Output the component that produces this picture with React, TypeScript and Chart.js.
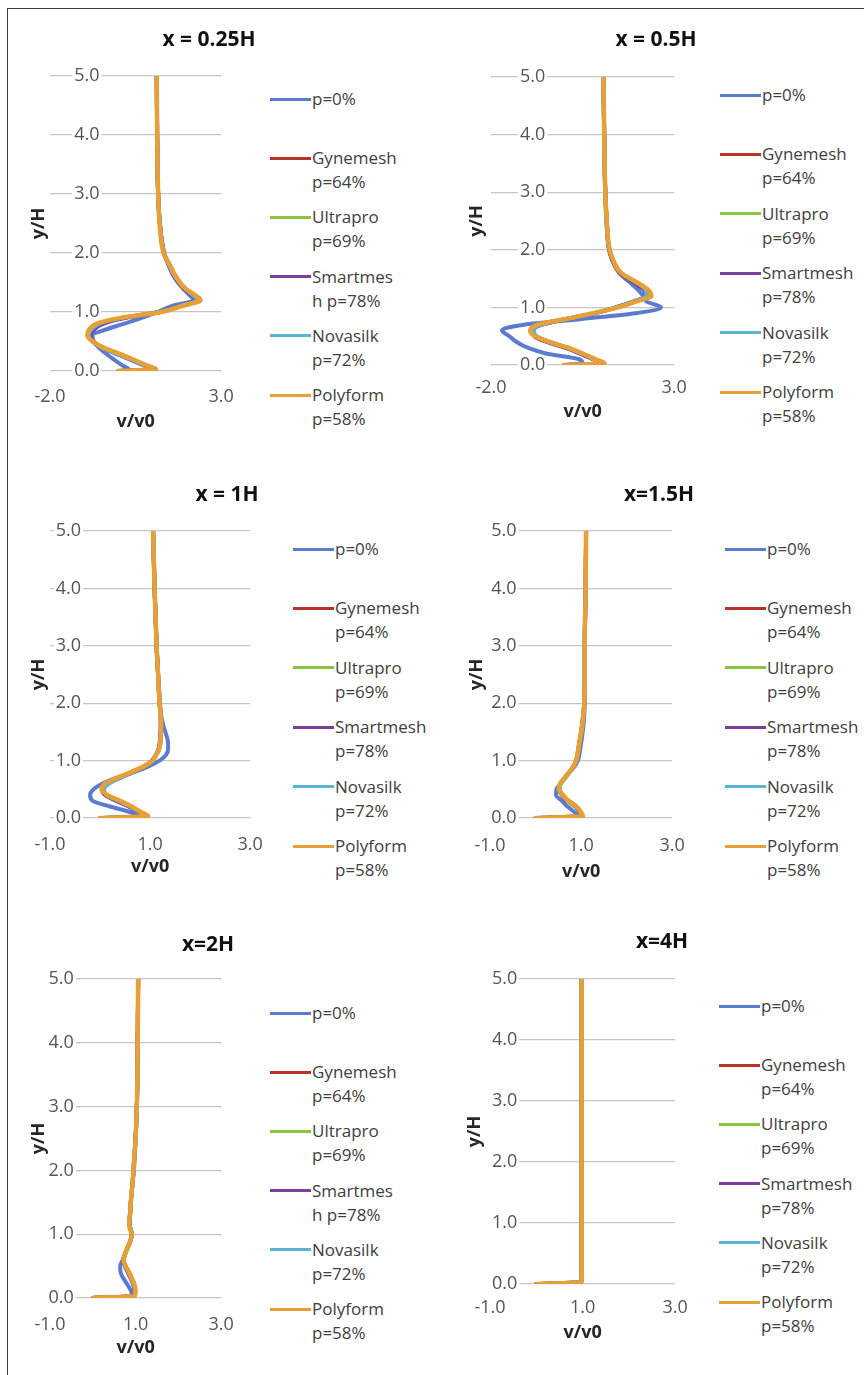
import React, { useEffect, useRef } from "react";
import { Chart, registerables } from "chart.js";

Chart.register(...registerables);

const FONT = "'Open Sans', 'DejaVu Sans', sans-serif";
Chart.defaults.font.family = FONT;

// ---------- data ----------
const Y_LEVELS = [0, 0.03, 0.1, 0.2, 0.3, 0.4, 0.5, 0.6, 0.7, 0.8, 0.9, 1.0, 1.1, 1.2, 1.3, 1.4, 1.6, 1.8, 2.0, 2.5, 3.0, 4.0, 5.0];

const SERIES_NAMES = ["p=0%", "Gynemesh p=64%", "Ultrapro p=69%", "Smartmesh p=78%", "Novasilk p=72%", "Polyform p=58%"];
const SERIES_COLORS = ["#5B7BD0", "#B8312A", "#8CC43F", "#7A3E9E", "#5AB4D6", "#E8A036"];

const LEGEND_NARROW = [["p=0%"], ["Gynemesh", "p=64%"], ["Ultrapro", "p=69%"], ["Smartmes", "h p=78%"], ["Novasilk", "p=72%"], ["Polyform", "p=58%"]];
const LEGEND_WIDE = [["p=0%"], ["Gynemesh", "p=64%"], ["Ultrapro", "p=69%"], ["Smartmesh", "p=78%"], ["Novasilk", "p=72%"], ["Polyform", "p=58%"]];

// x = 0.25H
const A_P0 = [0, 0.30, 0.10, -0.15, -0.38, -0.58, -0.72, -0.76, -0.38, 0.15, 0.68, 1.15, 1.55, 2.20, 2.05, 1.88, 1.62, 1.46, 1.34, 1.21, 1.16, 1.13, 1.12];
const A_GYN = [0, 1.06, 0.76, 0.36, -0.05, -0.48, -0.74, -0.86, -0.80, -0.55, 0.12, 1.22, 1.80, 2.30, 2.14, 1.94, 1.64, 1.47, 1.33, 1.21, 1.16, 1.13, 1.12];
const A_ULT = [0, 1.07, 0.77, 0.37, -0.04, -0.47, -0.73, -0.85, -0.79, -0.53, 0.14, 1.23, 1.81, 2.32, 2.15, 1.95, 1.64, 1.47, 1.33, 1.21, 1.16, 1.13, 1.12];
const A_SMT = [0, 1.03, 0.72, 0.31, -0.10, -0.52, -0.74, -0.82, -0.72, -0.45, 0.22, 1.20, 1.76, 2.28, 2.12, 1.92, 1.63, 1.47, 1.33, 1.21, 1.16, 1.13, 1.12];
const A_NOV = [0, 1.05, 0.74, 0.34, -0.08, -0.51, -0.76, -0.87, -0.80, -0.56, 0.10, 1.21, 1.78, 2.30, 2.15, 1.95, 1.65, 1.48, 1.33, 1.21, 1.16, 1.13, 1.12];
const A_POL = [0, 1.10, 0.80, 0.42, 0.00, -0.45, -0.75, -0.91, -0.86, -0.65, 0.05, 1.25, 1.85, 2.40, 2.20, 1.95, 1.68, 1.50, 1.32, 1.20, 1.16, 1.13, 1.12];

// x = 0.5H
const B_P0 = [0, 0.50, 0.40, -0.50, -1.00, -1.30, -1.50, -1.70, -1.10, 0.48, 1.95, 2.64, 2.25, 2.15, 2.02, 1.85, 1.50, 1.32, 1.22, 1.15, 1.12, 1.09, 1.07];
const B_GYN = [0, 1.06, 0.80, 0.45, 0.05, -0.45, -0.80, -0.88, -0.66, 0.05, 0.82, 1.42, 1.90, 2.25, 2.20, 2.00, 1.52, 1.33, 1.23, 1.16, 1.12, 1.09, 1.07];
const B_ULT = [0, 1.07, 0.81, 0.46, 0.06, -0.43, -0.78, -0.87, -0.65, 0.06, 0.83, 1.43, 1.91, 2.27, 2.21, 2.02, 1.53, 1.34, 1.23, 1.16, 1.12, 1.09, 1.07];
const B_SMT = [0, 1.04, 0.78, 0.42, 0.02, -0.48, -0.82, -0.85, -0.60, 0.10, 0.86, 1.40, 1.88, 2.22, 2.18, 1.98, 1.52, 1.33, 1.23, 1.16, 1.12, 1.09, 1.07];
const B_NOV = [0, 1.05, 0.80, 0.47, 0.08, -0.42, -0.76, -0.83, -0.62, 0.08, 0.84, 1.42, 1.88, 2.24, 2.22, 2.05, 1.55, 1.35, 1.24, 1.16, 1.12, 1.09, 1.07];
const B_POL = [0, 1.10, 0.85, 0.50, 0.10, -0.40, -0.80, -0.93, -0.72, 0.05, 0.80, 1.47, 1.95, 2.38, 2.30, 2.08, 1.55, 1.35, 1.24, 1.16, 1.12, 1.09, 1.07];

// x = 1H
const C_P0 = [0, 0.78, 0.62, 0.20, -0.15, -0.20, -0.13, 0.05, 0.32, 0.68, 0.97, 1.19, 1.32, 1.36, 1.36, 1.34, 1.27, 1.22, 1.20, 1.16, 1.13, 1.09, 1.06];
const C_GYN = [0, 0.94, 0.80, 0.58, 0.33, 0.10, 0.04, 0.14, 0.38, 0.64, 0.88, 1.04, 1.12, 1.17, 1.20, 1.21, 1.22, 1.21, 1.19, 1.16, 1.13, 1.09, 1.06];
const C_ULT = [0, 0.95, 0.81, 0.60, 0.35, 0.12, 0.05, 0.13, 0.37, 0.63, 0.88, 1.05, 1.12, 1.18, 1.20, 1.21, 1.22, 1.21, 1.19, 1.16, 1.13, 1.09, 1.06];
const C_SMT = [0, 0.93, 0.79, 0.57, 0.32, 0.11, 0.06, 0.16, 0.40, 0.66, 0.89, 1.04, 1.12, 1.17, 1.19, 1.20, 1.21, 1.21, 1.19, 1.16, 1.13, 1.09, 1.06];
const C_NOV = [0, 0.95, 0.80, 0.60, 0.36, 0.13, 0.08, 0.18, 0.40, 0.65, 0.89, 1.05, 1.13, 1.18, 1.21, 1.22, 1.22, 1.21, 1.19, 1.16, 1.13, 1.09, 1.06];
const C_POL = [0, 0.96, 0.82, 0.63, 0.40, 0.15, 0.03, 0.10, 0.35, 0.62, 0.88, 1.05, 1.12, 1.18, 1.20, 1.21, 1.22, 1.21, 1.19, 1.16, 1.13, 1.09, 1.06];

// x = 1.5H
const D_P0 = [0, 0.95, 0.86, 0.70, 0.58, 0.45, 0.46, 0.55, 0.65, 0.75, 0.86, 0.93, 0.96, 0.98, 1.00, 1.02, 1.05, 1.07, 1.08, 1.08, 1.08, 1.10, 1.11];
const D_GYN = [0, 1.03, 0.99, 0.89, 0.72, 0.60, 0.52, 0.55, 0.64, 0.74, 0.83, 0.89, 0.92, 0.94, 0.96, 0.98, 1.02, 1.05, 1.07, 1.08, 1.08, 1.10, 1.11];
const D_ULT = [0, 1.03, 0.98, 0.88, 0.71, 0.59, 0.52, 0.55, 0.64, 0.74, 0.83, 0.89, 0.92, 0.94, 0.96, 0.98, 1.02, 1.05, 1.07, 1.08, 1.08, 1.10, 1.11];
const D_SMT = [0, 1.02, 0.98, 0.87, 0.70, 0.58, 0.51, 0.55, 0.65, 0.75, 0.84, 0.90, 0.93, 0.95, 0.97, 0.99, 1.02, 1.05, 1.07, 1.08, 1.08, 1.10, 1.11];
const D_NOV = [0, 1.03, 0.99, 0.88, 0.71, 0.59, 0.52, 0.56, 0.65, 0.75, 0.84, 0.90, 0.93, 0.95, 0.97, 0.99, 1.03, 1.05, 1.07, 1.08, 1.08, 1.10, 1.11];
const D_POL = [0, 1.04, 1.00, 0.90, 0.72, 0.60, 0.51, 0.54, 0.64, 0.74, 0.83, 0.89, 0.92, 0.94, 0.96, 0.98, 1.02, 1.05, 1.07, 1.08, 1.08, 1.10, 1.11];

// x = 2H
const E_P0 = [0, 0.92, 0.90, 0.82, 0.72, 0.65, 0.64, 0.70, 0.76, 0.82, 0.88, 0.92, 0.88, 0.86, 0.87, 0.88, 0.90, 0.93, 0.96, 1.00, 1.03, 1.05, 1.06];
const E_GYN = [0, 0.97, 0.99, 0.96, 0.90, 0.83, 0.76, 0.72, 0.76, 0.82, 0.88, 0.91, 0.87, 0.85, 0.87, 0.88, 0.90, 0.93, 0.95, 1.00, 1.03, 1.05, 1.06];
const E_ULT = [0, 0.97, 0.98, 0.96, 0.90, 0.83, 0.76, 0.72, 0.76, 0.82, 0.88, 0.91, 0.87, 0.85, 0.87, 0.88, 0.90, 0.93, 0.95, 1.00, 1.03, 1.05, 1.06];
const E_SMT = [0, 0.96, 0.98, 0.95, 0.89, 0.82, 0.75, 0.72, 0.76, 0.82, 0.88, 0.91, 0.87, 0.86, 0.87, 0.88, 0.90, 0.93, 0.95, 1.00, 1.03, 1.05, 1.06];
const E_NOV = [0, 0.97, 0.99, 0.96, 0.90, 0.84, 0.76, 0.72, 0.76, 0.82, 0.88, 0.91, 0.87, 0.85, 0.87, 0.88, 0.90, 0.93, 0.95, 1.00, 1.03, 1.05, 1.06];
const E_POL = [0, 0.98, 1.00, 0.98, 0.92, 0.85, 0.77, 0.72, 0.76, 0.82, 0.88, 0.91, 0.86, 0.85, 0.87, 0.88, 0.90, 0.93, 0.95, 1.00, 1.03, 1.05, 1.06];

// x = 4H
const F_P0 = [0, 0.96, 0.97, 0.97, 0.97, 0.97, 0.97, 0.97, 0.97, 0.97, 0.97, 0.97, 0.98, 0.98, 0.98, 0.98, 0.98, 0.98, 0.98, 0.98, 0.98, 0.98, 0.98];
const F_GYN = [0, 0.97, 0.98, 0.98, 0.98, 0.98, 0.98, 0.98, 0.98, 0.98, 0.98, 0.98, 0.98, 0.98, 0.98, 0.98, 0.98, 0.98, 0.98, 0.98, 0.98, 0.98, 0.98];
const F_ULT = [0, 0.97, 0.98, 0.98, 0.98, 0.98, 0.98, 0.98, 0.98, 0.98, 0.98, 0.98, 0.98, 0.98, 0.98, 0.98, 0.98, 0.98, 0.98, 0.98, 0.98, 0.98, 0.98];
const F_SMT = [0, 0.97, 0.98, 0.98, 0.98, 0.98, 0.98, 0.98, 0.98, 0.98, 0.98, 0.98, 0.98, 0.98, 0.98, 0.98, 0.98, 0.98, 0.98, 0.98, 0.98, 0.98, 0.98];
const F_NOV = [0, 0.97, 0.98, 0.98, 0.98, 0.98, 0.98, 0.98, 0.98, 0.98, 0.98, 0.98, 0.98, 0.98, 0.98, 0.98, 0.98, 0.98, 0.98, 0.98, 0.98, 0.98, 0.98];
const F_POL = [0, 0.97, 0.98, 0.98, 0.98, 0.98, 0.98, 0.98, 0.98, 0.98, 0.98, 0.98, 0.98, 0.98, 0.98, 0.98, 0.98, 0.98, 0.98, 0.98, 0.98, 0.98, 0.98];

const Y_TICK_MIN = 0;
const Y_TICK_MAX = 5;
const Y_TICK_STEP = 1;
const X_RANGE_TOP = [-2, 3, 5]; // min, max, step
const X_RANGE_REST = [-1, 3, 2];

// ---------- layout (page pixels) ----------
type Geo = {
  caL: number; caR: number; caT: number; caB: number;
  tickY: number; xTitleY: number; yTitleX: number;
  titleX: number; titleY: number;
  legX: number; legY: number; legStep: number;
};

const PANELS = [
  { title: "x = 0.25H", series: [A_P0, A_GYN, A_ULT, A_SMT, A_NOV, A_POL], xr: X_RANGE_TOP, legend: LEGEND_NARROW,
    geo: { caL: 50, caR: 227, caT: 76, caB: 371, tickY: 397, xTitleY: 422, yTitleX: 39, titleX: 209, titleY: 38, legX: 270, legY: 99, legStep: 59.2 } },
  { title: "x = 0.5H", series: [B_P0, B_GYN, B_ULT, B_SMT, B_NOV, B_POL], xr: X_RANGE_TOP, legend: LEGEND_WIDE,
    geo: { caL: 491, caR: 677, caT: 77, caB: 365, tickY: 388, xTitleY: 412, yTitleX: 477, titleX: 656, titleY: 38, legX: 720, legY: 95, legStep: 59.4 } },
  { title: "x = 1H", series: [C_P0, C_GYN, C_ULT, C_SMT, C_NOV, C_POL], xr: X_RANGE_REST, legend: LEGEND_WIDE,
    geo: { caL: 50, caR: 257, caT: 531, caB: 818, tickY: 845, xTitleY: 867, yTitleX: 39, titleX: 227, titleY: 493, legX: 293, legY: 549, legStep: 59.4 } },
  { title: "x=1.5H", series: [D_P0, D_GYN, D_ULT, D_SMT, D_NOV, D_POL], xr: X_RANGE_REST, legend: LEGEND_WIDE,
    geo: { caL: 490, caR: 680, caT: 531, caB: 818, tickY: 846, xTitleY: 872, yTitleX: 477, titleX: 659, titleY: 493, legX: 725, legY: 549, legStep: 59.4 } },
  { title: "x=2H", series: [E_P0, E_GYN, E_ULT, E_SMT, E_NOV, E_POL], xr: X_RANGE_REST, legend: LEGEND_NARROW,
    geo: { caL: 50, caR: 228, caT: 979, caB: 1298, tickY: 1325, xTitleY: 1348, yTitleX: 39, titleX: 208, titleY: 943, legX: 270, legY: 1013, legStep: 59.2 } },
  { title: "x=4H", series: [F_P0, F_GYN, F_ULT, F_SMT, F_NOV, F_POL], xr: X_RANGE_REST, legend: LEGEND_WIDE,
    geo: { caL: 490, caR: 679, caT: 979, caB: 1284, tickY: 1308, xTitleY: 1333, yTitleX: 475, titleX: 662, titleY: 940, legX: 719, legY: 1006, legStep: 59.2 } },
];

const TICK_SIZE = 18;
const AXIS_TITLE_SIZE = 18;
const Y_LABEL_GAP = 19;

const yLabelShift = {
  id: "yLabelShift",
  beforeDraw(chart: any) {
    const sc: any = chart.scales.y;
    if (!sc) return;
    const items: any = sc.getLabelItems();
    if (!items.__shifted) {
      for (const it of items) it.options.translation[0] -= Y_LABEL_GAP;
      items.__shifted = true;
    }
  },
};

function Panel({ cfg }: { cfg: any }) {
  const ref = useRef<HTMLCanvasElement>(null);
  const g: Geo = cfg.geo;
  const L = g.caL - 45;
  const T = g.caT - 30;
  const W = Math.ceil(g.caR - L + 22);
  const lh = TICK_SIZE * 1.2;
  const tlh = AXIS_TITLE_SIZE * 1.2;
  // Chart.js reserves tick padding on both sides of the tick labels
  const tickPad = g.tickY - g.caB - lh / 2;
  const xtTop = g.xTitleY - g.caB - 2 * tickPad - lh - tlh / 2;
  const axisH = 2 * tickPad + lh + tlh + xtTop;
  const H = Math.ceil(g.caB - T + axisH + 2);
  const padBottom = H - (g.caB - T) - axisH;
  const padRight = L + W - g.caR;
  const padLeft = 4;
  const ytTop = Math.max(0, g.yTitleX - L - padLeft - tlh / 2);
  const ytBottom = Math.max(0, g.caL - L - padLeft - tlh - ytTop);

  useEffect(() => {
    const canvas = ref.current;
    if (!canvas) return;
    const datasets = cfg.series.map((xs: number[], i: number) => ({
      label: SERIES_NAMES[i],
      data: Y_LEVELS.map((y, k) => ({ x: xs[k], y })),
      borderColor: SERIES_COLORS[i],
      backgroundColor: SERIES_COLORS[i],
      borderWidth: i === 5 ? 4.5 : 4,
      pointRadius: 0,
      pointHoverRadius: 0,
      cubicInterpolationMode: "monotone",
      borderCapStyle: "round",
      borderJoinStyle: "round",
      fill: false,
      order: 5 - i,
    }));
    const [xMin, xMax, xStep] = cfg.xr;
    const chart = new Chart(canvas, {
      type: "line",
      data: { datasets },
      plugins: [yLabelShift],
      options: {
        responsive: false,
        animation: false,
        devicePixelRatio: 1,
        indexAxis: "y",
        layout: { padding: { left: padLeft, top: g.caT - T, right: padRight, bottom: padBottom } },
        plugins: { legend: { display: false }, tooltip: { enabled: false }, title: { display: false } },
        scales: {
          x: {
            type: "linear",
            position: "bottom",
            min: xMin,
            max: xMax,
            ticks: {
              stepSize: xStep,
              padding: tickPad,
              color: "#555555",
              font: { size: TICK_SIZE, family: FONT },
              callback: (v: any) => Number(v).toFixed(1),
            },
            grid: { display: false, drawTicks: false },
            border: { display: false },
            title: {
              display: true,
              text: "v/v0",
              color: "#262626",
              font: { size: AXIS_TITLE_SIZE, weight: "bold", family: FONT },
              padding: { top: xtTop, bottom: 0 },
            },
          },
          y: {
            type: "linear",
            position: { x: 0 },
            min: Y_TICK_MIN,
            max: Y_TICK_MAX,
            ticks: {
              stepSize: Y_TICK_STEP,
              padding: 0,
              color: "#555555",
              font: { size: TICK_SIZE, family: FONT },
              showLabelBackdrop: true,
              backdropColor: "#ffffff",
              backdropPadding: 2,
              callback: (v: any) => Number(v).toFixed(1),
            },
            grid: { color: "#c6c6c6", lineWidth: 1.3, drawTicks: false },
            border: { display: false },
          },
          yt: {
            type: "linear",
            axis: "y",
            position: "left",
            min: 0,
            max: 1,
            ticks: { display: false },
            grid: { display: false, drawTicks: false },
            border: { display: false },
            title: {
              display: true,
              text: "y/H",
              color: "#262626",
              font: { size: AXIS_TITLE_SIZE, weight: "bold", family: FONT },
              padding: { top: ytTop, bottom: ytBottom },
            },
          },
        },
      } as any,
    });
    return () => chart.destroy();
  }, []);

  return (
    <>
      <canvas ref={ref} width={W} height={H} style={{ position: "absolute", left: L, top: T, width: W, height: H }} />
      <div
        style={{
          position: "absolute",
          left: g.titleX - 150,
          top: g.titleY - 14,
          width: 300,
          textAlign: "center",
          fontFamily: FONT,
          fontWeight: 700,
          fontSize: 21,
          lineHeight: "28px",
          color: "#111",
          whiteSpace: "nowrap",
        }}
      >
        {cfg.title}
      </div>
      {cfg.legend.map((lines: string[], i: number) => (
        <div key={i} style={{ position: "absolute", left: g.legX, top: g.legY + i * g.legStep - 12, width: 150 }}>
          <div style={{ position: "absolute", left: 0, top: 10.5, width: 41, height: 3, background: SERIES_COLORS[i] }} />
          <div
            style={{
              position: "absolute",
              left: 42,
              top: 0,
              fontFamily: FONT,
              fontSize: 17,
              lineHeight: "24px",
              color: "#404040",
              whiteSpace: "nowrap",
            }}
          >
            {lines.map((t, k) => (
              <div key={k}>{t}</div>
            ))}
          </div>
        </div>
      ))}
    </>
  );
}

export default function App() {
  return (
    <div style={{ position: "absolute", left: 0, top: 0, width: 864, height: 1375, background: "#ffffff", overflow: "hidden" }}>
      <div
        style={{
          position: "absolute",
          left: 7,
          top: 8,
          right: -4,
          bottom: -4,
          borderLeft: "1.5px solid #3a3a3a",
          borderTop: "1.5px solid #3a3a3a",
        }}
      />
      {PANELS.map((p, i) => (
        <Panel key={i} cfg={p} />
      ))}
    </div>
  );
}
